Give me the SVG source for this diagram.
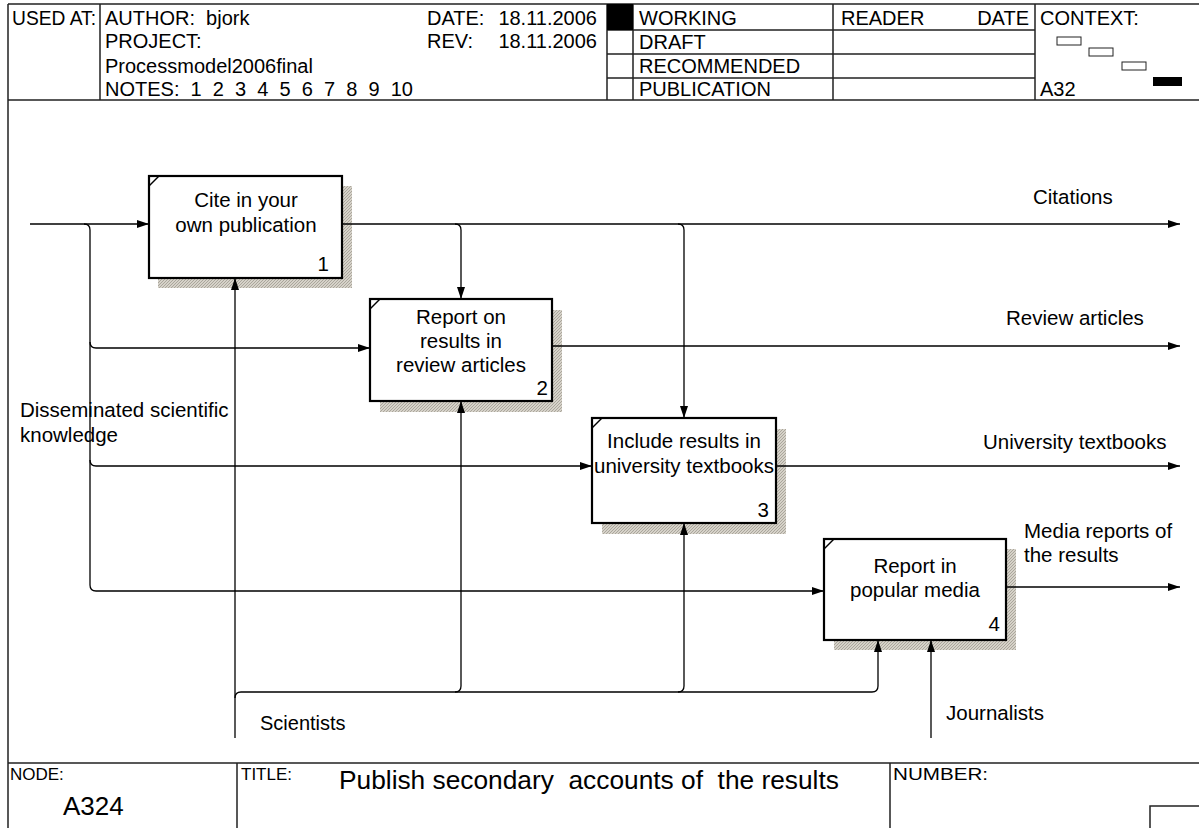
<svg xmlns="http://www.w3.org/2000/svg" width="1199" height="828" viewBox="0 0 1199 828">
<style>
text{font-family:"Liberation Sans",Arial,sans-serif;fill:#000}
.h{font-size:20px}
.f{font-size:17px}
.t{font-size:20.5px}
.c{text-anchor:middle}
.e{text-anchor:end}
.frame{stroke:#222;stroke-width:1.5;fill:none}
.box{fill:#fff;stroke:#000;stroke-width:2.2}
.sh{fill:url(#hatch)}
.cn{fill:none;stroke:#000;stroke-width:1.3}
.ar{marker-end:url(#arr)}
</style>
<defs>
<pattern id="hatch" width="3" height="3" patternUnits="userSpaceOnUse">
<rect width="3" height="3" fill="#d6d2c9"/>
<path d="M0,3 L3,0" stroke="#aaa69c" stroke-width="1"/>
</pattern>
<marker id="arr" markerWidth="13" markerHeight="9" refX="12" refY="4" orient="auto" markerUnits="userSpaceOnUse">
<path d="M0,0 L12,4 L0,8 z" fill="#000"/>
</marker>
</defs>
<rect width="1199" height="828" fill="#fff"/>
<g id="frame">
<path class="frame" d="M8,4 H1199 M8,4 V828 M8,100 H1199 M100,4 V100 M607,4 V100 M633,4 V100 M833,4 V100 M1035,4 V100 M607,30 H1035 M607,54 H1035 M607,78 H1035 M8,763 H1199 M237,763 V828 M890,763 V828 M1150,828 V806 H1199"/>
<rect x="607" y="4" width="26" height="26" fill="#000"/>
<rect x="1057" y="37" width="24" height="8" fill="#fff" stroke="#222" stroke-width="1"/>
<rect x="1089" y="48" width="24" height="8" fill="#fff" stroke="#222" stroke-width="1"/>
<rect x="1122" y="62" width="24" height="8" fill="#fff" stroke="#222" stroke-width="1"/>
<rect x="1153" y="77" width="29" height="9" fill="#000"/>
<text class="h" x="12" y="25" textLength="84" lengthAdjust="spacingAndGlyphs">USED AT:</text>
<text class="h" x="105" y="25" xml:space="preserve">AUTHOR:  bjork</text>
<text class="h" x="105" y="48">PROJECT:</text>
<text class="h" x="105" y="73">Processmodel2006final</text>
<text class="h" x="105" y="96" xml:space="preserve">NOTES:  1  2  3  4  5  6  7  8  9  10</text>
<text class="h" x="427" y="25">DATE:</text>
<text class="h e" x="597" y="25">18.11.2006</text>
<text class="h" x="427" y="48">REV:</text>
<text class="h e" x="597" y="48">18.11.2006</text>
<text class="h" x="639" y="25">WORKING</text>
<text class="h" x="639" y="49">DRAFT</text>
<text class="h" x="639" y="73">RECOMMENDED</text>
<text class="h" x="639" y="96">PUBLICATION</text>
<text class="h" x="841" y="25">READER</text>
<text class="h e" x="1029" y="25">DATE</text>
<text class="h" x="1040" y="25">CONTEXT:</text>
<text class="h" x="1040" y="96">A32</text>
<text class="f" x="10" y="780">NODE:</text>
<text x="63" y="815" style="font-size:26px">A324</text>
<text class="f" x="241" y="780">TITLE:</text>
<text x="339" y="789" style="font-size:26.3px" xml:space="preserve">Publish secondary  accounts of  the results</text>
<text class="f" x="893" y="780" textLength="95" lengthAdjust="spacingAndGlyphs">NUMBER:</text>
</g>
<g id="node1">
<rect class="sh" x="158" y="186" width="194" height="102"/>
<rect class="box" x="149" y="176" width="193" height="102"/>
<path d="M149,186 L159,176" stroke="#000" stroke-width="1.5"/>
<text class="t c" x="246" y="207">Cite in your</text>
<text class="t c" x="246" y="232">own publication</text>
<text class="t e" x="329" y="271">1</text>
</g>
<g id="node2">
<rect class="sh" x="380" y="310" width="182" height="102"/>
<rect class="box" x="370" y="299" width="182" height="102"/>
<path d="M370,309 L380,299" stroke="#000" stroke-width="1.5"/>
<text class="t c" x="461" y="324">Report on</text>
<text class="t c" x="461" y="348">results in</text>
<text class="t c" x="461" y="372">review articles</text>
<text class="t e" x="548" y="395">2</text>
</g>
<g id="node3">
<rect class="sh" x="602" y="429" width="184" height="105"/>
<rect class="box" x="592" y="418" width="184" height="105"/>
<path d="M592,428 L602,418" stroke="#000" stroke-width="1.5"/>
<text class="t c" x="684" y="448">Include results in</text>
<text class="t c" x="684" y="473">university textbooks</text>
<text class="t e" x="769" y="517">3</text>
</g>
<g id="node4">
<rect class="sh" x="834" y="549" width="182" height="101"/>
<rect class="box" x="824" y="539" width="182" height="101"/>
<path d="M824,549 L834,539" stroke="#000" stroke-width="1.5"/>
<text class="t c" x="915" y="573">Report in</text>
<text class="t c" x="915" y="597">popular media</text>
<text class="t e" x="1000" y="631">4</text>
</g>
<g id="connectors">
<path class="cn ar" d="M30,224 H149"/>
<path class="cn ar" d="M84,224 Q90,224 90,230 V585 Q90,591 96,591 H824"/>
<path class="cn ar" d="M90,342 Q90,348 96,348 H370"/>
<path class="cn ar" d="M90,460 Q90,466 96,466 H592"/>
<path class="cn ar" d="M342,224 H1180"/>
<path class="cn ar" d="M455,224 Q461,224 461,230 V299"/>
<path class="cn ar" d="M678,224 Q684,224 684,230 V418"/>
<path class="cn ar" d="M552,346 H1180"/>
<path class="cn ar" d="M776,466 H1180"/>
<path class="cn ar" d="M1006,587 H1180"/>
<path class="cn ar" d="M235,738 V278"/>
<path class="cn ar" d="M235,698 Q235,692 241,692 H872 Q878,692 878,686 V640"/>
<path class="cn ar" d="M455,692 Q461,692 461,686 V401"/>
<path class="cn ar" d="M678,692 Q684,692 684,686 V523"/>
<path class="cn ar" d="M931,738 V640"/>
<text class="t" x="1033" y="204">Citations</text>
<text class="t" x="1006" y="325">Review articles</text>
<text class="t" x="983" y="449">University textbooks</text>
<text class="t" x="1024" y="538">Media reports of</text>
<text class="t" x="1024" y="562">the results</text>
<text class="t" x="20" y="417">Disseminated scientific</text>
<text class="t" x="20" y="442">knowledge</text>
<text x="260" y="730" style="font-size:20px">Scientists</text>
<text class="t" x="946" y="720">Journalists</text>
</g>
</svg>
